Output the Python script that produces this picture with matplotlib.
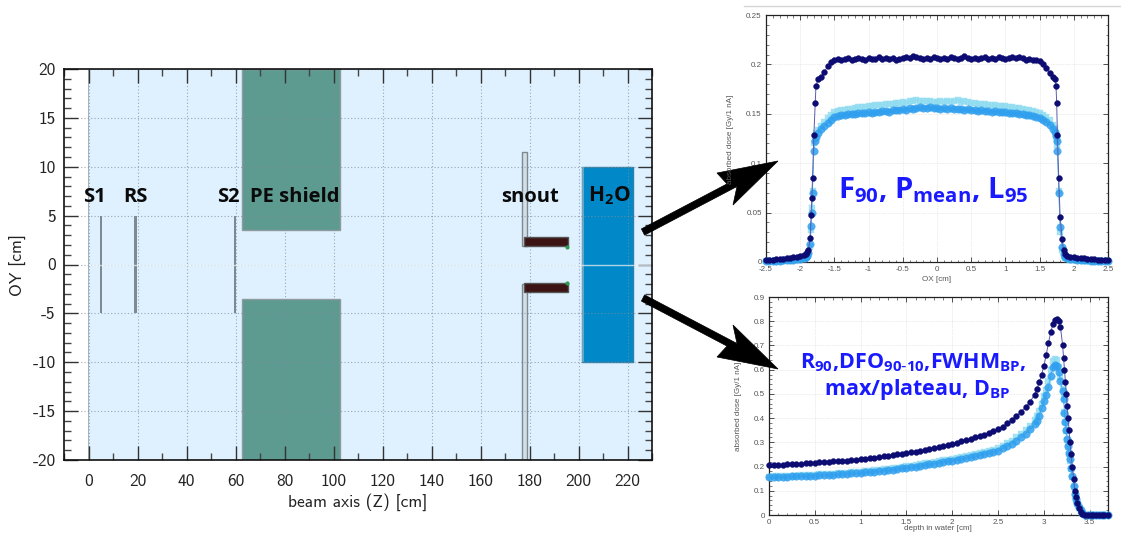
import matplotlib
matplotlib.use('Agg')
from matplotlib import pyplot as plt
from matplotlib.patches import Polygon, Rectangle
from matplotlib.lines import Line2D
from matplotlib.ticker import MultipleLocator

W, H = 1121, 533

# geometry main plot, all in cm
pe_z = [62.6, 102.7]
pe_y = [3.5, 20]
snout_z = [176.8, 179.0]
snout_upper_y = [1.9, 11.5]
snout_lower_y = [-20, -2.0]
collimator_z = [177.8, 195.7]
collimator_y = [1.9, 2.8]
water_z = [201.3, 222.3]
water_y = [-10, 10]
detector_z = [5.0, 19.2, 59.7]
detector_width = [0.7, 1.0, 0.7]
main_xticks = [0, 20, 40, 60, 80, 100, 120, 140, 160, 180, 200, 220]
main_yticks = [-20, -15, -10, -5, 0, 5, 10, 15, 20]

# transverse profile
ox = [-2.5, -2.45, -2.4, -2.35, -2.3, -2.25, -2.2, -2.15, -2.1, -2.05, -2.0, -1.95, -1.92, -1.9,
      -1.88, -1.856, -1.84, -1.83, -1.82, -1.8, -1.78, -1.77, -1.74, -1.7, -1.65, -1.6, -1.55,
      -1.5, -1.45, -1.4, -1.35, -1.3, -1.25, -1.2, -1.15, -1.1, -1.05,
      -1.0, -0.95, -0.9, -0.85, -0.8, -0.75, -0.7, -0.65, -0.6, -0.55,
      -0.5, -0.45, -0.4, -0.35, -0.3, -0.25, -0.2, -0.15, -0.1, -0.05,
      0.0, 0.05, 0.1, 0.15, 0.2, 0.25, 0.3, 0.35, 0.4, 0.45,
      0.5, 0.55, 0.6, 0.65, 0.7, 0.75, 0.8, 0.85, 0.9, 0.95,
      1.0, 1.05, 1.1, 1.15, 1.2, 1.25, 1.3, 1.35, 1.4, 1.45, 1.5,
      1.55, 1.6, 1.65, 1.7, 1.73, 1.74, 1.75, 1.76, 1.78, 1.8, 1.83, 1.85, 1.87, 1.9,
      1.95, 2.0, 2.05, 2.1, 2.15, 2.2, 2.25, 2.3, 2.35, 2.4, 2.45, 2.5]
ox_dark = [.002, .002, .002, .003, .003, .003, .004, .004, .005, .005, .006, .007, .008, .010,
           .012, .024, .048, .065, .085, .129, .161, .178, .185, .187, .192, .198, .202,
           .204, .205, .204, .205, .206, .204, .205, .206, .205, .204,
           .206, .205, .205, .207, .205, .206, .205, .206, .204, .205,
           .206, .207, .206, .208, .207, .206, .205, .206, .205, .207,
           .206, .205, .206, .205, .207, .206, .205, .206, .208, .206,
           .205, .206, .205, .206, .207, .205, .206, .205, .207, .206,
           .205, .206, .207, .206, .207, .206, .204, .205, .204, .204, .203,
           .2, .196, .191, .187, .185, .178, .161, .129, .085, .046, .023, .012, .008, .006,
           .005, .005, .004, .004, .004, .003, .003, .003, .002, .002, .002, .002]
ox_blue = [.001, .001, .001, .001, .001, .002, .002, .002, .002, .003, .003, .004, .005, .006,
           .009, .018, .036, .05, .07, .112, .122, .127, .131, .135, .138, .141, .144,
           .147, .148, .149, .149, .150, .150, .150, .151, .151, .151,
           .152, .151, .152, .152, .153, .153, .152, .154, .154, .154,
           .155, .154, .156, .155, .156, .157, .156, .156, .157, .156,
           .156, .155, .156, .155, .156, .155, .155, .155, .154, .155,
           .154, .154, .153, .154, .153, .153, .152, .153, .152, .152,
           .152, .151, .151, .151, .150, .150, .149, .149, .148, .147, .146,
           .144, .142, .139, .135, .132, .128, .122, .112, .07, .035, .015, .008, .005, .004,
           .003, .003, .002, .002, .002, .002, .001, .001, .001, .001, .001, .001]
ox_cyan = [.001, .001, .001, .001, .001, .001, .002, .002, .002, .002, .003, .003, .004, .005,
           .007, .015, .032, .055, .072, .12, .127, .131, .134, .138, .142, .146, .149,
           .152, .153, .154, .154, .155, .155, .156, .157, .157, .157,
           .158, .158, .159, .159, .159, .160, .160, .160, .161, .161,
           .162, .161, .163, .163, .164, .163, .163, .163, .163, .162,
           .162, .163, .162, .163, .162, .163, .164, .162, .163, .162,
           .161, .161, .160, .160, .160, .159, .159, .159, .158, .158,
           .158, .157, .157, .156, .156, .155, .154, .154, .153, .152, .151,
           .149, .147, .144, .139, .136, .131, .124, .118, .072, .03, .012, .006, .004, .003,
           .002, .002, .002, .002, .001, .001, .001, .001, .001, .001, .001, .001]

# depth dose curve
depth = [0, .05, .1, .15, .2, .25, .3, .35, .4, .45, .5, .55, .6, .65, .7, .75, .8, .85, .9, .95,
         1.0, 1.05, 1.1, 1.15, 1.2, 1.25, 1.3, 1.35, 1.4, 1.45, 1.5, 1.55, 1.6, 1.65, 1.7, 1.75,
         1.8, 1.85, 1.9, 1.95, 2.0,
         2.05, 2.1, 2.15, 2.2, 2.25, 2.3, 2.35, 2.4, 2.45, 2.5, 2.55, 2.6, 2.65, 2.7, 2.75, 2.8, 2.85, 2.9,
         2.925, 2.95, 2.975, 3.0, 3.025, 3.05, 3.075, 3.1,
         3.12, 3.14, 3.16, 3.18,
         3.205, 3.215, 3.225, 3.235, 3.245, 3.255, 3.265, 3.275, 3.285, 3.297, 3.31, 3.325, 3.34,
         3.352, 3.365, 3.38, 3.4, 3.42, 3.45,
         3.48, 3.51, 3.54, 3.57, 3.6, 3.63, 3.66, 3.7]
dose_dark = [.205, .206, .207, .208, .209, .210, .211, .212, .213, .214, .216, .217, .218, .220, .221,
             .222, .224, .225, .227, .229,
             .231, .233, .235, .237, .240, .242, .245, .247, .250, .253, .256, .259, .262, .265, .269,
             .272, .276, .280, .284, .289,
             .294,
             .299, .304, .309, .314, .320, .326, .332, .339, .346, .354, .365, .378, .392, .408, .425,
             .445, .468, .497,
             .52, .548, .58, .615, .66, .71, .755, .79,
             .803, .808, .80, .778,
             .70, .65, .60, .55, .50, .45, .40, .35, .30, .25, .20, .15, .10, .075, .05, .03, .012, .005, .001,
             0, 0, 0, 0, 0, 0, 0, 0]
dose_blue = [.155, .156, .157, .157, .158, .159, .160, .160, .161, .162, .163, .164, .165, .166, .167,
             .168, .170, .171, .172, .173,
             .174, .176, .177, .179, .181, .183, .185, .187, .190, .192, .195, .197, .200, .203, .206,
             .209, .212, .215, .218, .221,
             .225,
             .228, .232, .235, .239, .243, .247, .251, .256, .260, .265, .275, .285, .295, .307, .32,
             .335, .353, .375,
             .39, .41, .44, .47, .495, .53, .575, .61,
             .62, .615, .59, .555,
             .51, .48, .42, .385, .35, .315, .285, .255, .23, .195, .16, .12, .085, .065, .048, .033, .02, .01, .002,
             0, 0, 0, 0, 0, 0, 0, 0]
dose_cyan = [.158, .159, .160, .161, .162, .163, .163, .164, .165, .166, .167, .168, .169, .170, .171,
             .172, .174, .175, .176, .178,
             .179, .181, .183, .185, .187, .189, .191, .193, .196, .198, .201, .204, .207, .210, .213,
             .216, .219, .223, .226, .229,
             .233,
             .237, .241, .244, .248, .252, .257, .261, .266, .270, .275, .285, .296, .307, .320, .334,
             .350, .369, .392,
             .408, .429, .46, .49, .516, .553, .60, .635,
             .645, .638, .61, .57,
             .52, .485, .425, .385, .345, .31, .28, .25, .225, .19, .155, .115, .08, .06, .044, .03, .018, .008, .002,
             0, 0, 0, 0, 0, 0, 0, 0]

plt.rcParams['font.family'] = ['cmss10', 'DejaVu Sans']
plt.rcParams['axes.unicode_minus'] = False
plt.rcParams['mathtext.default'] = 'regular'

fig = plt.figure(figsize=(W / 100, H / 100), dpi=100)


def px_axes(left, top, right, bottom):
    return fig.add_axes([left / W, 1 - bottom / H, (right - left) / W, (bottom - top) / H])


def px(x, y):
    return (x / W, 1 - y / H)


def box(ax, xs, ys, color, edge='#8f9a9f', lw=1.0, z=1.5):
    ax.add_patch(Rectangle((xs[0], ys[0]), xs[1] - xs[0], ys[1] - ys[0], facecolor=color,
                           edgecolor=edge, linewidth=lw, zorder=z))


# left: geometry
ax = px_axes(64, 69, 652, 460)
ax.set_xlim(-10, 230)
ax.set_ylim(-20, 20)
ax.add_patch(Rectangle((0, -20), 230, 40, facecolor='#dff1fe', edgecolor='none', zorder=0))
ax.grid(True, linestyle=(0, (1, 2)), linewidth=0.8, color='#7f8f9a', alpha=0.75)
ax.set_axisbelow(False)
ax.xaxis.set_minor_locator(MultipleLocator(10))
ax.yaxis.set_minor_locator(MultipleLocator(1))
ax.set_xticks(main_xticks)
ax.set_yticks(main_yticks)
ax.tick_params(which='major', direction='in', top=True, right=True, length=10, width=1.0,
               color='#333333', labelsize=12.5, labelcolor='#222222', pad=10)
ax.tick_params(which='minor', direction='in', top=True, right=True, length=5, width=1.0, color='#444444')
ax.tick_params(axis='y', pad=6)
# the y=0 ticks are almost washed out in the picture
zero_tick = ax.yaxis.get_major_ticks()[4]
zero_tick.tick1line.set_color('#c8c8c8')
zero_tick.tick2line.set_color('#c8c8c8')
for s in ax.spines.values():
    s.set_linewidth(1.2)
    s.set_color('#111111')
    s.set_zorder(8)
ax.set_xlabel('beam axis (Z) [cm]', fontsize=12.5, color='#222222', labelpad=3)
ax.set_ylabel('OY [cm]', fontsize=12.5, color='#222222', labelpad=4)

box(ax, [-0.2, 0.3], [-20, 20], '#a8b4bb', edge='none')
for z, w in zip(detector_z, detector_width):
    box(ax, [z - w / 2, z + w / 2], [-5, 5], '#7d8a92', edge='none')
box(ax, pe_z, pe_y, '#5d9a90')
box(ax, pe_z, [-pe_y[1], -pe_y[0]], '#5d9a90')
box(ax, snout_z, snout_upper_y, '#d3dfe8', edge='#7f8a90')
box(ax, snout_z, snout_lower_y, '#d3dfe8', edge='#7f8a90')
box(ax, collimator_z, collimator_y, '#3c1414', edge='#555555', z=4)
box(ax, collimator_z, [-collimator_y[1], -collimator_y[0]], '#3c1414', edge='#555555', z=4)
ax.plot([195.2, 195.2], [1.8, -1.9], linestyle='none', marker='o', markersize=2, color='#2d9a50', zorder=5)
box(ax, water_z, water_y, '#0088c8', edge='#2f7fa8')
box(ax, [water_z[0], water_z[0] + 1.0], water_y, '#6aa4c4', edge='none')
ax.axhline(0, xmin=10 / 240, color='#eef6fb', linewidth=1, alpha=0.7, zorder=5)

bold = dict(fontfamily=['Open Sans', 'DejaVu Sans'], fontweight='bold', fontsize=14.5, color='#0a0a0a',
            ha='center', va='center', zorder=7)
ax.text(2.6, 6.9, 'S1', **bold)
ax.text(19, 6.9, 'RS', **bold)
ax.text(57, 6.9, 'S2', **bold)
ax.text(84, 6.9, 'PE shield', **bold)
ax.text(180, 6.9, 'snout', **bold)
ax.text(212.7, 7.0, 'H$_2$O', **{**bold, 'fontsize': 15})


def small_axes(a, xlim, ylim, xmin, ymin):
    a.set_xlim(xlim)
    a.set_ylim(ylim)
    a.xaxis.set_minor_locator(MultipleLocator(xmin))
    a.yaxis.set_minor_locator(MultipleLocator(ymin))
    a.grid(True, linestyle=(0, (1, 1.5)), linewidth=0.5, color='#d8d8d8', zorder=0)
    a.set_axisbelow(True)
    a.tick_params(which='major', direction='in', top=True, right=True, length=3.5, width=0.6,
                  color='#333333', labelsize=5.8, labelcolor='#555555', pad=3,
                  labelfontfamily='Liberation Sans')
    a.tick_params(which='minor', direction='in', top=True, right=True, length=1.8, width=0.5, color='#444444')
    for s in a.spines.values():
        s.set_linewidth(0.9)
        s.set_color('#222222')


def draw_series(a, x, cyan, blue, dark):
    a.plot(x, cyan, color='#7fd8ec', linewidth=0.5, marker='s', markersize=5.0, markerfacecolor='#8fdcf0',
           markeredgecolor='#8fdcf0', markeredgewidth=0.3, alpha=0.8, clip_on=False, zorder=3)
    a.plot(x, blue, color='#2a9ff0', linewidth=0.5, marker='o', markersize=5.4, markerfacecolor='#2f9fee',
           markeredgecolor='#2f9fee', markeredgewidth=0.3, alpha=0.85, clip_on=False, zorder=4)
    a.plot(x, dark, color='#5c5cae', linewidth=0.7, marker='o', markersize=4.2, markerfacecolor='#0c0c72',
           markeredgecolor='#0c0c72', markeredgewidth=0.3, clip_on=False, zorder=5)


# top right: profile
a1 = px_axes(766, 15, 1108, 262)
small_axes(a1, (-2.5, 2.5), (0, 0.25), 0.1, 0.01)
a1.set_xticks([-2.5, -2, -1.5, -1, -0.5, 0, 0.5, 1, 1.5, 2, 2.5])
a1.set_xticklabels(['-2.5', '-2', '-1.5', '-1', '-0.5', '0', '0.5', '1', '1.5', '2', '2.5'])
a1.set_yticks([0, 0.05, 0.1, 0.15, 0.2, 0.25])
a1.set_yticklabels(['0', '0.05', '0.1', '0.15', '0.2', '0.25'])
draw_series(a1, ox, ox_cyan, ox_blue, ox_dark)
a1.set_xlabel('OX [cm]', fontsize=5.8, color='#555555', labelpad=2, fontfamily='Liberation Sans')
fig.text(731 / W, 1 - 139 / H, 'absorbed dose [Gy/1 nA]', rotation=90, fontsize=5.8, color='#555555',
         ha='center', va='center', fontfamily='Liberation Sans')
blue_txt = dict(fontfamily=['Open Sans', 'DejaVu Sans'], fontweight='bold', color='#1a1aff', ha='center',
                va='baseline', zorder=8)
a1.text(-0.05, 0.065, 'F$_{90}$, P$_{mean}$, L$_{95}$', fontsize=21, **blue_txt)

# bottom right: depth dose
a2 = px_axes(769, 297, 1108, 515)
small_axes(a2, (0, 3.7), (0, 0.9), 0.1, 0.02)
a2.set_xticks([0, 0.5, 1, 1.5, 2, 2.5, 3, 3.5])
a2.set_xticklabels(['0', '0.5', '1', '1.5', '2', '2.5', '3', '3.5'])
a2.set_yticks([0, .1, .2, .3, .4, .5, .6, .7, .8, .9])
a2.set_yticklabels(['0', '0.1', '0.2', '0.3', '0.4', '0.5', '0.6', '0.7', '0.8', '0.9'])
draw_series(a2, depth, dose_cyan, dose_blue, dose_dark)
fig.text(938 / W, 1 - 528 / H, 'depth in water [cm]', fontsize=5.8, color='#555555', ha='center', va='center',
         fontfamily='Liberation Sans')
fig.text(739 / W, 1 - 406 / H, 'absorbed dose [Gy/1 nA]', rotation=90, fontsize=5.8, color='#555555',
         ha='center', va='center', fontfamily='Liberation Sans')
a2.text(1.57, 0.607, 'R$_{90}$,DFO$_{90\\text{-}10}$,FWHM$_{BP}$,', fontsize=15.5, **blue_txt)
a2.text(1.62, 0.495, 'max/plateau, D$_{BP}$', fontsize=15.5, **blue_txt)

# thin rule over the top plot, left from the pasted screenshot
fig.add_artist(Line2D([744 / W, 1], [1 - 6 / H, 1 - 6 / H], color='#d5d5d5', linewidth=1))

# black arrows
arrow_up = [(641.4, 228.9), (727, 183.9), (717, 173), (778, 161), (733, 205), (737, 186.5), (644.6, 235.1)]
arrow_down = [(x, 530 - y) for x, y in arrow_up]
for pts in (arrow_up, arrow_down):
    fig.add_artist(Polygon([px(x, y) for x, y in pts], closed=True, facecolor='black', edgecolor='black',
                           linewidth=0.5, transform=fig.transFigure))

fig.savefig('out.png', dpi=100)
